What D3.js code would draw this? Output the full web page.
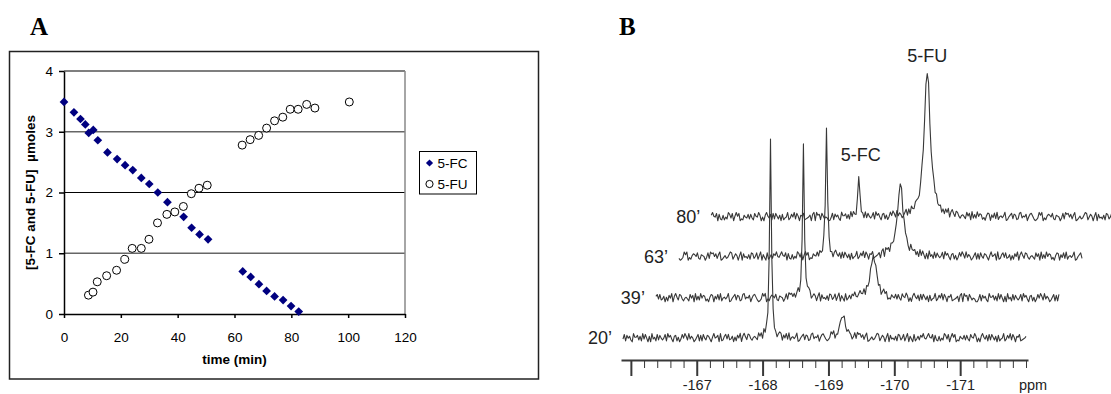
<!DOCTYPE html>
<html>
<head>
<meta charset="utf-8">
<script src="https://cdn.jsdelivr.net/npm/d3@7"></script>
<style>
  html, body { margin: 0; padding: 0; background: #fff; }
  svg { display: block; }
</style>
</head>
<body>
<div id="chart"></div>
<script>
// ---- panel A: 5-FC / 5-FU amounts vs time
const fcTime = [0, 3.5, 5.8, 7.5, 8.7, 10.3, 11.9, 15.3, 18.7, 21.5, 24.2, 27.2, 30.0, 33.0, 36.4, 42.1, 44.9, 47.7, 50.7, 62.9, 65.7, 68.6, 71.3, 74.1, 77.1, 79.9, 82.6]
const fcAmount = [3.49, 3.32, 3.21, 3.12, 2.98, 3.03, 2.86, 2.66, 2.55, 2.45, 2.37, 2.24, 2.14, 2.00, 1.84, 1.60, 1.42, 1.31, 1.23, 0.70, 0.61, 0.49, 0.38, 0.29, 0.23, 0.13, 0.04]
const fuTime = [8.6, 10.2, 11.7, 15.0, 18.5, 21.4, 24.0, 27.2, 29.9, 32.9, 36.2, 39.0, 42.0, 44.8, 47.5, 50.4, 62.7, 65.5, 68.5, 71.3, 74.1, 77.0, 79.6, 82.4, 85.4, 88.3, 100.4]
const fuAmount = [0.31, 0.36, 0.53, 0.63, 0.72, 0.90, 1.08, 1.08, 1.23, 1.50, 1.64, 1.68, 1.77, 1.98, 2.07, 2.12, 2.78, 2.87, 2.94, 3.06, 3.18, 3.24, 3.37, 3.37, 3.45, 3.39, 3.49]
const timeTicks = [0, 20, 40, 60, 80, 100, 120]
const amountTicks = [0, 1, 2, 3, 4]

// ---- panel B: stacked 19F spectra
const spectrumLabels = ["20’", "39’", "63’", "80’"]
const fcPeakPpm = [-168.12, -168.12, -168.12, -168.12]
const fcPeakHeight = [100, 77, 64.5, 22]
const fuPeakPpm = [-169.22, -169.18, -169.24, -169.16]
const fuPeakHeight = [10.5, 21.5, 37, 74]
const stackShiftPpm = [0, -0.5, -0.85, -1.34]
const stackRaise = [0, 20.1, 41, 60.8]
const spectralWindow = [-165.88, -172.0]
const ppmTicks = [-166, -167, -168, -169, -170, -171]
// baseline noise read as digits 0-9 (hand typed)
const noiseDigits =
  "3817462095572619384060935182742481957306715038496293640258171842763059" +
  "4570912683823605174906952873145318470926294761305870638291453590146827" +
  "6128935470478520139690315764821654038297847269013523698147505907342618" +
  "7248159063081362759436954807216142973805958021643727318549604069537182" +
  "852607134913749285065812346079096718524300"

const sans = "'Liberation Sans', Arial, sans-serif"
const serif = "'Liberation Serif', 'Times New Roman', serif"

const svg = d3.select("#chart")
  .append("svg")
  .attr("width", 1111)
  .attr("height", 394)

/* ------- PANEL A -------*/
const pa = svg.append("g").attr("class", "panel-a")

pa.append("rect")
  .attr("x", 9.5).attr("y", 51.5)
  .attr("width", 529).attr("height", 327.5)
  .attr("fill", "none")
  .attr("stroke", "#222")
  .attr("stroke-width", 1.5)

pa.append("text")
  .attr("x", 30).attr("y", 35)
  .attr("font-family", serif)
  .attr("font-weight", "bold")
  .attr("font-size", 25)
  .text("A")

const x = d3.scaleLinear().domain([0, 120]).range([64, 405])
const y = d3.scaleLinear().domain([0, 4]).range([314, 71])

// gridlines + plot border on the right
pa.append("g")
  .selectAll("line")
  .data(amountTicks.slice(1))
  .join("line")
  .attr("x1", x(0)).attr("x2", x(120))
  .attr("y1", d => y(d)).attr("y2", d => y(d))
  .attr("stroke", d => d % 2 ? "#666" : "#000")
  .attr("stroke-width", d => d % 2 ? 1.5 : 1.2)

pa.append("line")
  .attr("x1", x(120)).attr("x2", x(120))
  .attr("y1", y(4)).attr("y2", y(0))
  .attr("stroke", "#888")
  .attr("stroke-width", 1.5)

const yAxis = pa.append("g")
  .attr("transform", "translate(" + x(0) + ",0)")
  .call(d3.axisLeft(y).tickValues(amountTicks).tickSize(5).tickPadding(6).tickSizeOuter(0).tickFormat(d3.format("d")))
const xAxis = pa.append("g")
  .attr("transform", "translate(0," + y(0) + ")")
  .call(d3.axisBottom(x).tickValues(timeTicks).tickSize(4).tickPadding(14).tickSizeOuter(0))

;[xAxis, yAxis].forEach(g => {
  g.attr("font-family", sans).attr("font-size", 13.5)
  g.selectAll("path, line").attr("stroke", "#000").attr("stroke-width", 1.5)
  g.selectAll("text").attr("fill", "#000")
})

pa.append("text")
  .attr("x", 234.5).attr("y", 364)
  .attr("text-anchor", "middle")
  .attr("font-family", sans)
  .attr("font-weight", "bold")
  .attr("font-size", 13.5)
  .text("time (min)")

pa.append("text")
  .attr("transform", "translate(35,192.5) rotate(-90)")
  .attr("text-anchor", "middle")
  .attr("font-family", sans)
  .attr("font-weight", "bold")
  .attr("font-size", 13.5)
  .style("white-space", "pre")
  .text("[5-FC and 5-FU]  µmoles")

const diamond = d3.symbol(d3.symbolSquare, 38)

pa.append("g")
  .selectAll("path")
  .data(d3.zip(fcTime, fcAmount))
  .join("path")
  .attr("transform", d => "translate(" + x(d[0]) + "," + y(d[1]) + ") rotate(45)")
  .attr("d", diamond)
  .attr("fill", "#000080")

pa.append("g")
  .selectAll("circle")
  .data(d3.zip(fuTime, fuAmount))
  .join("circle")
  .attr("cx", d => x(d[0]))
  .attr("cy", d => y(d[1]))
  .attr("r", 4)
  .attr("fill", "#fff")
  .attr("stroke", "#000")
  .attr("stroke-width", 1)

// legend
const legend = pa.append("g").attr("transform", "translate(419.5,151.5)")
legend.append("rect")
  .attr("width", 57).attr("height", 42.5)
  .attr("fill", "#fff")
  .attr("stroke", "#000")
legend.append("path")
  .attr("transform", "translate(10,11.5) rotate(45)")
  .attr("d", d3.symbol(d3.symbolSquare, 26))
  .attr("fill", "#000080")
legend.append("circle")
  .attr("cx", 10).attr("cy", 32.5).attr("r", 3.6)
  .attr("fill", "#fff").attr("stroke", "#000")
legend.selectAll("text")
  .data(["5-FC", "5-FU"])
  .join("text")
  .attr("x", 18)
  .attr("y", (d, i) => 11.5 + i * 21)
  .attr("dy", "0.36em")
  .attr("font-family", sans)
  .attr("font-size", 13.5)
  .text(d => d)

/* ------- PANEL B -------*/
const pb = svg.append("g").attr("class", "panel-b")
const ink = "#383838"

pb.append("text")
  .attr("x", 619).attr("y", 35)
  .attr("font-family", serif)
  .attr("font-weight", "bold")
  .attr("font-size", 25)
  .text("B")

const xPpm = d3.scaleLinear().domain([-165.85, -172.03]).range([621, 1028])
const yInt = d3.scaleLinear().domain([0, 100]).range([337.7, 138.7])

const lorentz = (p, c, h, w) => h / (1 + ((p - c) / w) ** 2)

const step = 0.02
const nPts = Math.round((spectralWindow[0] - spectralWindow[1]) / step) + 1

const traces = spectrumLabels.map((label, t) => {
  const pts = d3.range(nPts).map(k => {
    const p = +(spectralWindow[0] - k * step).toFixed(2)
    const digit = +noiseDigits[(k + t * 77) % noiseDigits.length]
    const v = stackRaise[t]
      + lorentz(p, fcPeakPpm[t], fcPeakHeight[t], 0.016)
      + lorentz(p, fuPeakPpm[t], fuPeakHeight[t], 0.055)
      + (digit - 4.5) * 0.46
    return [p + stackShiftPpm[t], v]
  })
  return { label, t, pts }
})

const line = d3.line()
  .x(d => xPpm(d[0]))
  .y(d => yInt(d[1]))

pb.append("g")
  .selectAll("path")
  .data(traces)
  .join("path")
  .attr("d", d => line(d.pts))
  .attr("fill", "none")
  .attr("stroke", ink)
  .attr("stroke-width", 1.1)
  .attr("stroke-linejoin", "round")

pb.append("g")
  .selectAll("text")
  .data(traces)
  .join("text")
  .attr("x", d => xPpm(spectralWindow[0] + stackShiftPpm[d.t]) - 11)
  .attr("y", d => yInt(stackRaise[d.t]))
  .attr("dy", "0.36em")
  .attr("text-anchor", "end")
  .attr("font-family", sans)
  .attr("font-size", 18)
  .attr("fill", "#222")
  .text(d => d.label)

// peak labels sit over the last spectrum
const last = spectrumLabels.length - 1
pb.append("text")
  .attr("x", xPpm(fcPeakPpm[last] + stackShiftPpm[last]) + 2)
  .attr("y", yInt(stackRaise[last] + fcPeakHeight[last]) - 18)
  .attr("dy", "0.36em")
  .attr("text-anchor", "middle")
  .attr("font-family", sans)
  .attr("font-size", 18)
  .attr("fill", "#222")
  .text("5-FC")
pb.append("text")
  .attr("x", xPpm(fuPeakPpm[last] + stackShiftPpm[last]))
  .attr("y", yInt(stackRaise[last] + fuPeakHeight[last]) - 14)
  .attr("dy", "0.36em")
  .attr("text-anchor", "middle")
  .attr("font-family", sans)
  .attr("font-size", 18)
  .attr("fill", "#222")
  .text("5-FU")

// ppm axis: major ticks every 1 ppm, minor every 0.2 ppm
const minorTicks = d3.range(1, 31)
  .map(i => +(-166 - i * 0.2).toFixed(1))
  .filter(v => !ppmTicks.includes(v))

const minorAxis = pb.append("g")
  .attr("transform", "translate(0,360)")
  .call(d3.axisBottom(xPpm).tickValues(minorTicks).tickSize(8).tickSizeOuter(0).tickFormat(""))
minorAxis.select(".domain").attr("stroke", ink).attr("stroke-width", 2)
minorAxis.selectAll("line").attr("stroke", ink).attr("stroke-width", 1)

const majorAxis = pb.append("g")
  .attr("transform", "translate(0,360)")
  .call(d3.axisBottom(xPpm).tickValues(ppmTicks).tickSize(16).tickPadding(4).tickSizeOuter(0)
    .tickFormat(d => d === -166 ? "" : String(d)))
majorAxis.select(".domain").remove()
majorAxis.attr("font-family", sans).attr("font-size", 14.5)
majorAxis.selectAll("line").attr("stroke", ink).attr("stroke-width", 2)
majorAxis.selectAll("text").attr("fill", "#222")

pb.append("text")
  .attr("x", 1033).attr("y", 390)
  .attr("text-anchor", "middle")
  .attr("font-family", sans)
  .attr("font-size", 14.5)
  .attr("fill", "#222")
  .text("ppm")
</script>
</body>
</html>
